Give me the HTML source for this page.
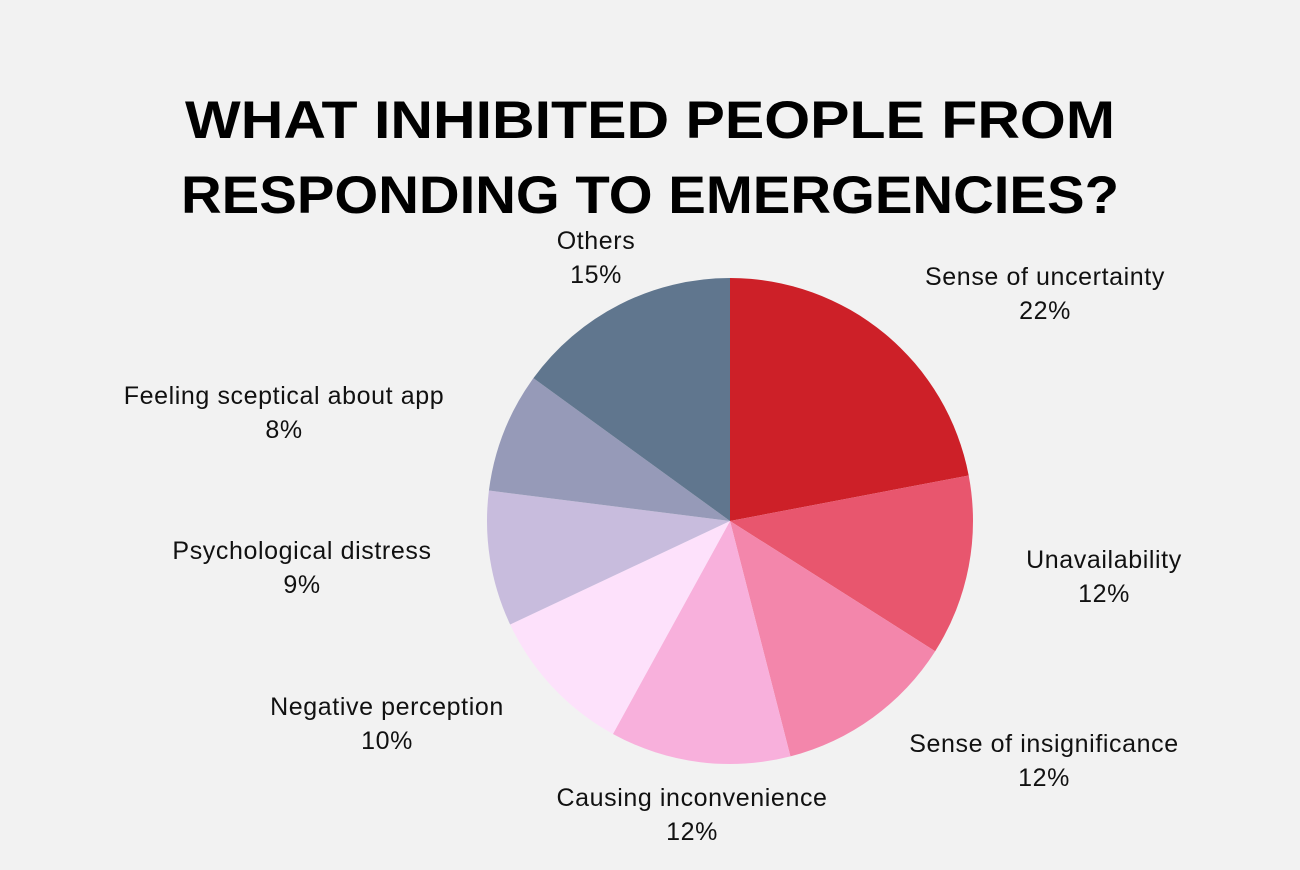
<!DOCTYPE html>
<html><head><meta charset="utf-8"><style>
html,body{margin:0;padding:0;background:#f2f2f2;}
svg{display:block;}
</style></head><body>
<svg id="chart" width="1300" height="870" xmlns="http://www.w3.org/2000/svg">
<rect width="1300" height="870" fill="#f2f2f2"/>
<text x="650" y="138" text-anchor="middle" font-family="Liberation Sans, sans-serif" font-weight="bold" font-size="53" textLength="930" lengthAdjust="spacingAndGlyphs">WHAT INHIBITED PEOPLE FROM</text>
<text x="650" y="213" text-anchor="middle" font-family="Liberation Sans, sans-serif" font-weight="bold" font-size="53" textLength="938" lengthAdjust="spacingAndGlyphs">RESPONDING TO EMERGENCIES?</text>
<g id="slices"></g>
<g id="labels"></g>
</svg>
<script>
const categories = ["Sense of uncertainty","Unavailability","Sense of insignificance","Causing inconvenience","Negative perception","Psychological distress","Feeling sceptical about app","Others"];
const values = [22,12,12,12,10,9,8,15];
const valueLabels = ["22%","12%","12%","12%","10%","9%","8%","15%"];
const colors = ["#cd2028","#e8566e","#f386ab","#f8b0dc","#fde1fb","#c8bcdd","#969ab8","#60768e"];
const labelLayout = [[1045,277],[1104,560],[1044,744],[692,798],[387,707],[302,551],[284,396],[596,241]];
const cx=730, cy=521, r=243;
const NS="http://www.w3.org/2000/svg";
const total = values.reduce((a,b)=>a+b,0);
function angleOf(v){return v/total*Math.PI*2;}
function pt(a){return [cx+r*Math.sin(a), cy-r*Math.cos(a)];}
const gS=document.getElementById('slices'), gL=document.getElementById('labels');
let acc=0;
values.forEach((v,i)=>{
  const a0=angleOf(acc), a1=angleOf(acc+v); acc+=v;
  const p0=pt(a0), p1=pt(a1), large=(a1-a0)>Math.PI?1:0;
  const p=document.createElementNS(NS,'path');
  p.setAttribute('d',`M${cx},${cy} L${p0[0]},${p0[1]} A${r},${r} 0 ${large} 1 ${p1[0]},${p1[1]} Z`);
  p.setAttribute('fill',colors[i]);
  
  
  gS.appendChild(p);
  const [lx,ly]=labelLayout[i];
  const t=document.createElementNS(NS,'text');
  t.setAttribute('x',lx);t.setAttribute('y',ly+8);
  t.setAttribute('text-anchor','middle');
  t.setAttribute('font-family','Liberation Sans, sans-serif');
  t.setAttribute('font-size','25');t.setAttribute('fill','#111');
  t.setAttribute('letter-spacing','0.6');
  t.textContent=categories[i];
  
  
  gL.appendChild(t);
  const t2=document.createElementNS(NS,'text');
  t2.setAttribute('x',lx);t2.setAttribute('y',ly+42);
  t2.setAttribute('text-anchor','middle');
  t2.setAttribute('font-family','Liberation Sans, sans-serif');
  t2.setAttribute('font-size','25');t2.setAttribute('fill','#111');
  t2.setAttribute('letter-spacing','0.6');
  t2.textContent=valueLabels[i];
  
  
  gL.appendChild(t2);
});
</script>
</body></html>
